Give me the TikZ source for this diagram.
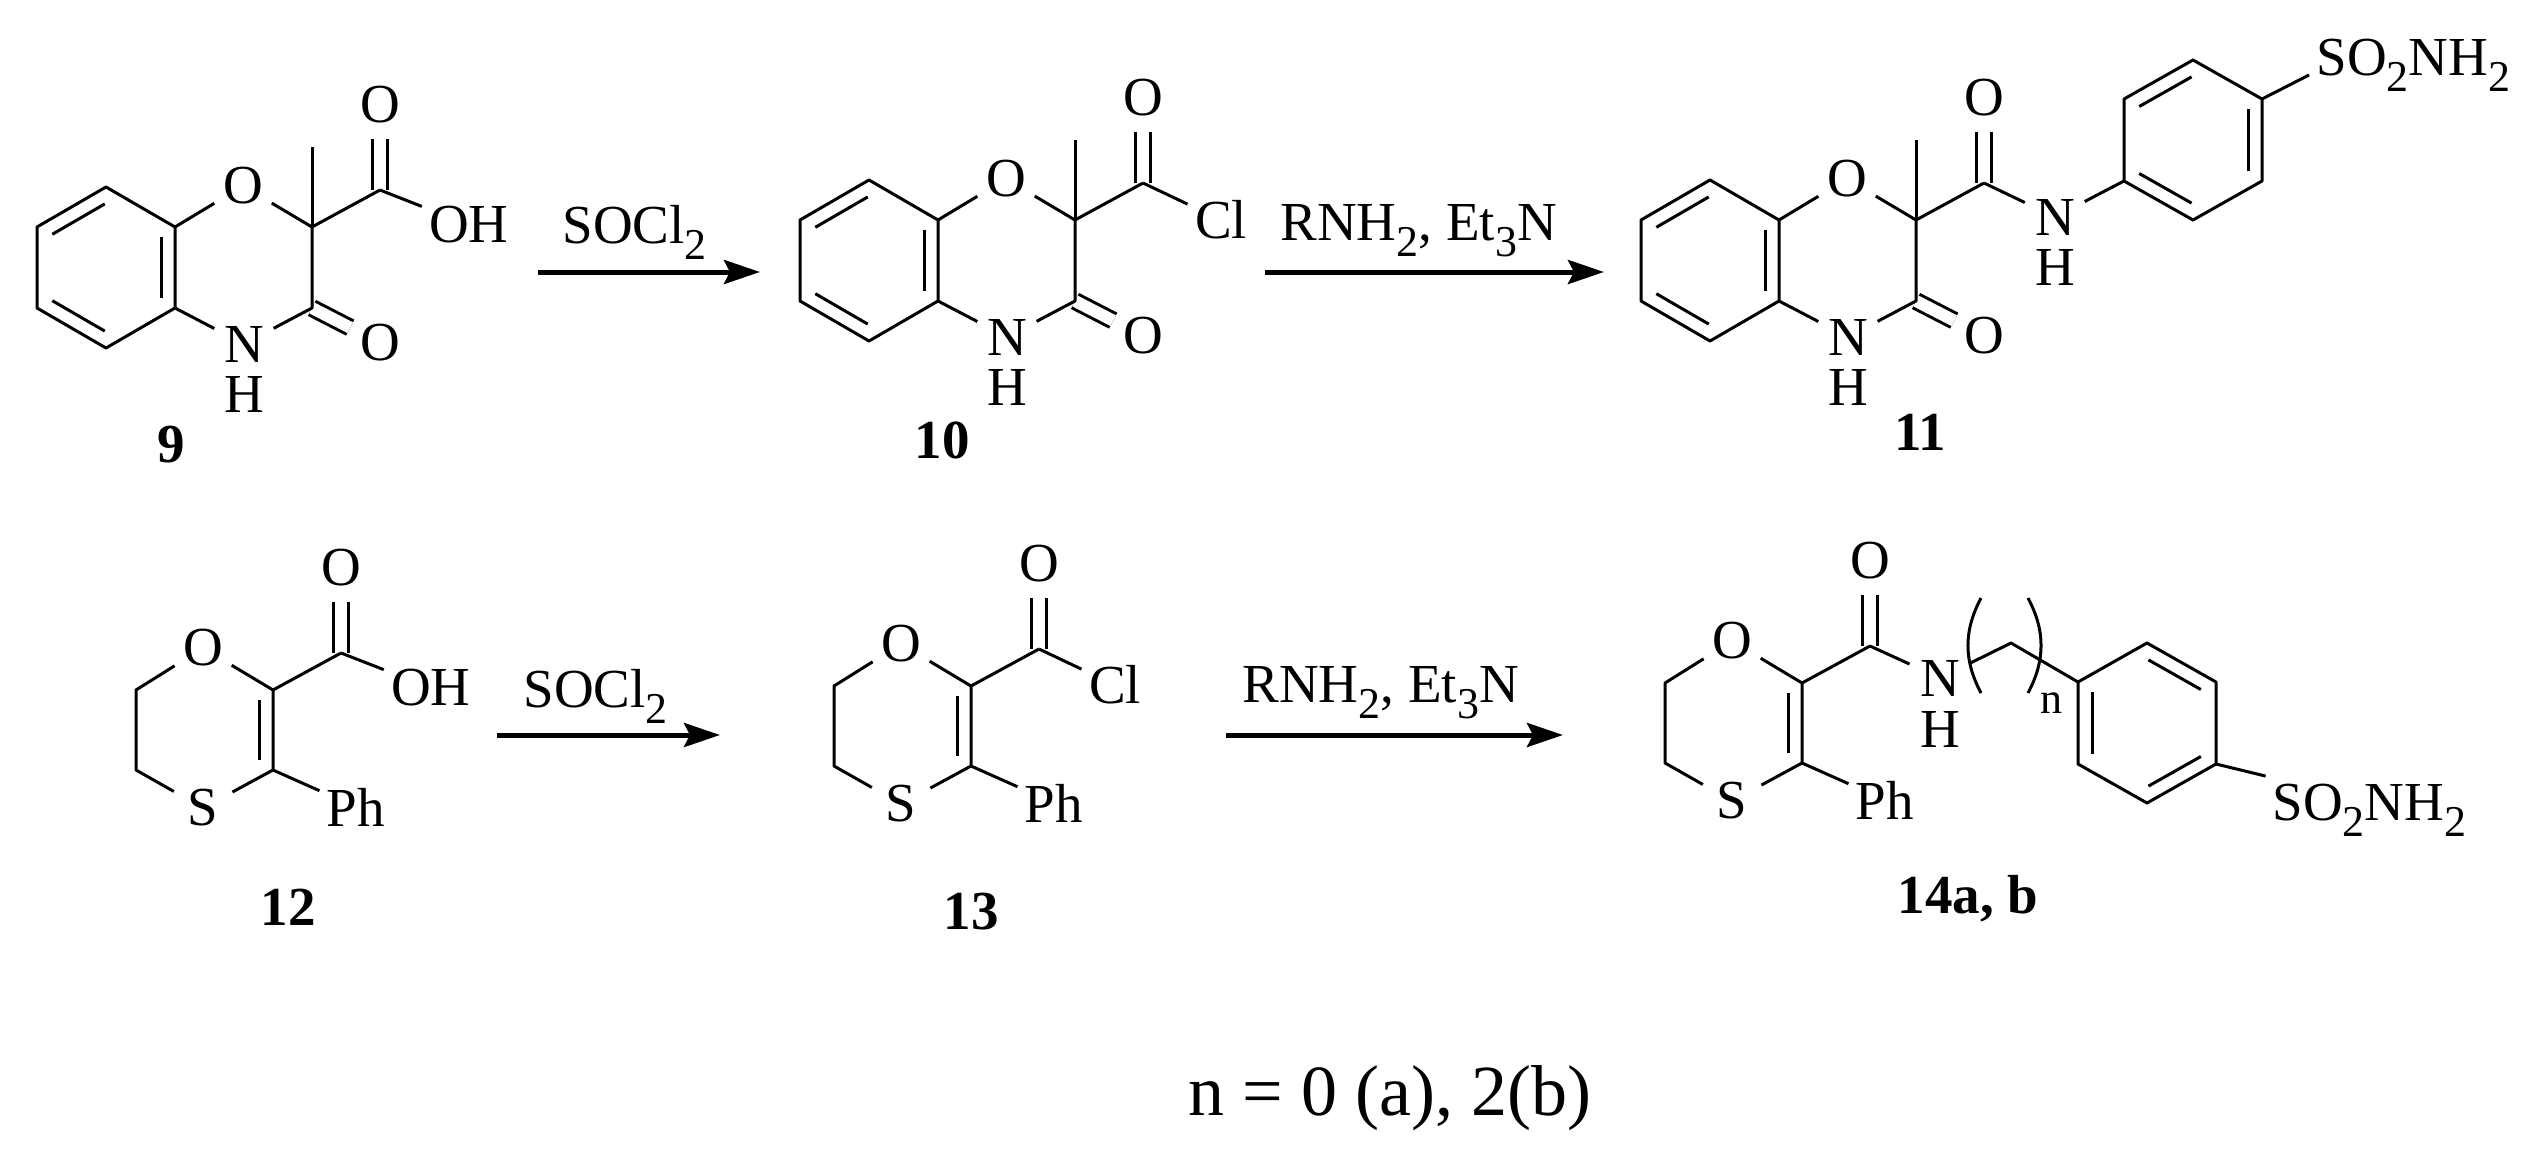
\documentclass[tikz,border=0pt]{standalone}
\usepackage{fontspec}
\setmainfont{Liberation Serif}
\usetikzlibrary{arrows.meta,calc,positioning}
\newcommand{\subnum}[1]{\raisebox{-8pt}{\fontsize{22}{22}\selectfont #1}}
\newcommand{\ringdbl}[2]{\draw ($(#1)!.12!(#2)!7pt!-90:(#2)$) -- ($(#2)!.12!(#1)!7pt!90:(#1)$);}

\begin{document}
\begin{tikzpicture}[
  x=0.5pt, y=-0.5pt, line width=1.5pt, line join=round,
  atom/.style={circle, inner sep=0pt, minimum size=32pt, font=\fontsize{27.5}{30}\selectfont},
  group/.style={rectangle, inner sep=3pt, font=\fontsize{27.5}{30}\selectfont},
  reagent/.style={anchor=base west, inner sep=0pt, font=\fontsize{27.5}{30}\selectfont},
  cmpd/.style={anchor=base, inner sep=0pt, font=\fontsize{27.5}{30}\selectfont\bfseries},
  arrow/.style={-{Stealth[length=18pt, width=12pt, inset=3pt]}, line width=2.5pt},
  carbonyl/.style={double, double distance=6pt},
  benzoxazine/.pic={
    \coordinate (-rt) at (0,0);
    \coordinate (-t) at (-69,-40);
    \coordinate (-lt) at (-138,0);
    \coordinate (-lb) at (-138,81);
    \coordinate (-b) at (-69,121);
    \coordinate (-rb) at (0,81);
    \coordinate (-c2) at (137,0);
    \coordinate (-c3) at (137,81);
    \coordinate (-me) at (137,-80);
    \coordinate (-co) at (205,-37);
    \node[atom] (-o) at (68,-41) {O};
    \node[atom] (-n) at (69,117) {N};
    \node[atom, below=-8.5pt of -n] (-h) {H};
    \node[atom] (-ot) at (205,-122) {O};
    \node[atom] (-ob) at (205,116) {O};
    \draw[carbonyl] (-co) -- (-ot);
    \draw[carbonyl] (-c3) -- (-ob);
    \draw (-lt) -- (-t) -- (-rt) -- (-rb) -- (-b) -- (-lb) -- cycle;
    \draw (-rt) -- (-o) -- (-c2) -- (-c3) -- (-n) -- (-rb);
    \draw (-c2) -- (-me);
    \draw (-c2) -- (-co);
    \ringdbl{-lt}{-t}
    \ringdbl{-rt}{-rb}
    \ringdbl{-b}{-lb}
  },
  oxathiine/.pic={
    \coordinate (-c2) at (0,0);
    \coordinate (-c3) at (0,80);
    \coordinate (-ul) at (-137,0);
    \coordinate (-ll) at (-137,80);
    \coordinate (-co) at (68,-37);
    \node[atom] (-o) at (-70,-42) {O};
    \node[atom] (-s) at (-70,118) {S};
    \node[atom] (-ot) at (68,-122) {O};
    \node[group] (-ph) at (83,117) {Ph};
    \draw[carbonyl] (-co) -- (-ot);
    \draw (-c2) -- (-o) -- (-ul) -- (-ll) -- (-s) -- (-c3) -- (-c2);
    \draw (-c2) -- (-co);
    \draw (-c3) -- (-ph);
    \ringdbl{-c2}{-c3}
  },
  aryl/.pic={
    \coordinate (-ul) at (-69,-41);
    \coordinate (-top) at (0,-80);
    \coordinate (-ur) at (69,-41);
    \coordinate (-lr) at (69,41);
    \coordinate (-bot) at (0,80);
    \coordinate (-ll) at (-69,41);
    \draw (-ul) -- (-top) -- (-ur) -- (-lr) -- (-bot) -- (-ll) -- cycle;
  }
]
  \useasboundingbox (0,0) rectangle (2538,1162);

  % top row
  \pic (m9) at (175,227) {benzoxazine};
  \pic (m10) at (938,220) {benzoxazine};
  \pic (m11) at (1779,220) {benzoxazine};
  \node[group] (oh9) at (469,225) {OH};
  \node[group] (cl10) at (1221,220) {Cl};
  \draw (m9-co) -- (oh9);
  \draw (m10-co) -- (cl10);

  \node[atom] (n11) at (2055,217) {N};
  \node[atom, below=-8.5pt of n11] (h11) {H};
  \pic (p11) at (2193,140) {aryl};
  \ringdbl{p11-ul}{p11-top}
  \ringdbl{p11-ur}{p11-lr}
  \ringdbl{p11-bot}{p11-ll}
  \node[group, anchor=base west] (so11) at (2309,75) {SO\subnum{2}NH\subnum{2}};
  \draw (m11-co) -- (n11) -- (p11-ll);
  \draw (p11-ur) -- (so11.base west);

  \node[cmpd] (l9) at (171,462) {9};
  \node[cmpd] (l10) at (942,458) {10};
  \node[cmpd] (l11) at (1920,450) {11};

  \coordinate (a1s) at (538,272);
  \coordinate (a1e) at (760,272);
  \coordinate (a2s) at (1265,272);
  \coordinate (a2e) at (1604,272);
  \draw[arrow] (a1s) -- (a1e);
  \draw[arrow] (a2s) -- (a2e);
  \node[reagent] (r1) at (561,243) {SOCl\subnum{2}};
  \node[reagent] (r2) at (1279,240) {RNH\subnum{2}, Et\subnum{3}N};

  % bottom row
  \pic (m12) at (273,690) {oxathiine};
  \pic (m13) at (971,686) {oxathiine};
  \pic (m14) at (1802,683) {oxathiine};
  \node[group] (oh12) at (431,688) {OH};
  \node[group] (cl13) at (1115,685) {Cl};
  \draw (m12-co) -- (oh12);
  \draw (m13-co) -- (cl13);

  \node[atom] (n14) at (1940,678) {N};
  \node[atom, below=-8pt of n14] (h14) {H};
  \coordinate (ch14) at (2011,643);
  \pic (p14) at (2147,723) {aryl};
  \ringdbl{p14-top}{p14-ur}
  \ringdbl{p14-lr}{p14-bot}
  \ringdbl{p14-ll}{p14-ul}
  \node[group, anchor=base west] (so14) at (2265,820) {SO\subnum{2}NH\subnum{2}};
  \draw (m14-co) -- (n14) -- (ch14) -- (p14-ul);
  \draw (p14-lr) -- (so14.162);

  \coordinate (bl1) at (1981,598);
  \coordinate (bl2) at (1981,693);
  \coordinate (br1) at (2028,598);
  \coordinate (br2) at (2028,693);
  \draw (bl1) to[bend right=28] (bl2);
  \draw (br1) to[bend left=28] (br2);
  \node[anchor=base, inner sep=0pt, font=\fontsize{22}{24}\selectfont] (nn) at (2051,713) {n};

  \node[cmpd] (l12) at (288,925) {12};
  \node[cmpd] (l13) at (971,929) {13};
  \node[cmpd] (l14) at (1968,913) {14a, b};

  \coordinate (a3s) at (497,735);
  \coordinate (a3e) at (720,735);
  \coordinate (a4s) at (1226,735);
  \coordinate (a4e) at (1563,735);
  \draw[arrow] (a3s) -- (a3e);
  \draw[arrow] (a4s) -- (a4e);
  \node[reagent] (r3) at (522,707) {SOCl\subnum{2}};
  \node[reagent] (r4) at (1241,702) {RNH\subnum{2}, Et\subnum{3}N};

  \node[reagent, font=\fontsize{36}{40}\selectfont] (note) at (1187,1115) {n = 0 (a), 2(b)};
\end{tikzpicture}
\end{document}
